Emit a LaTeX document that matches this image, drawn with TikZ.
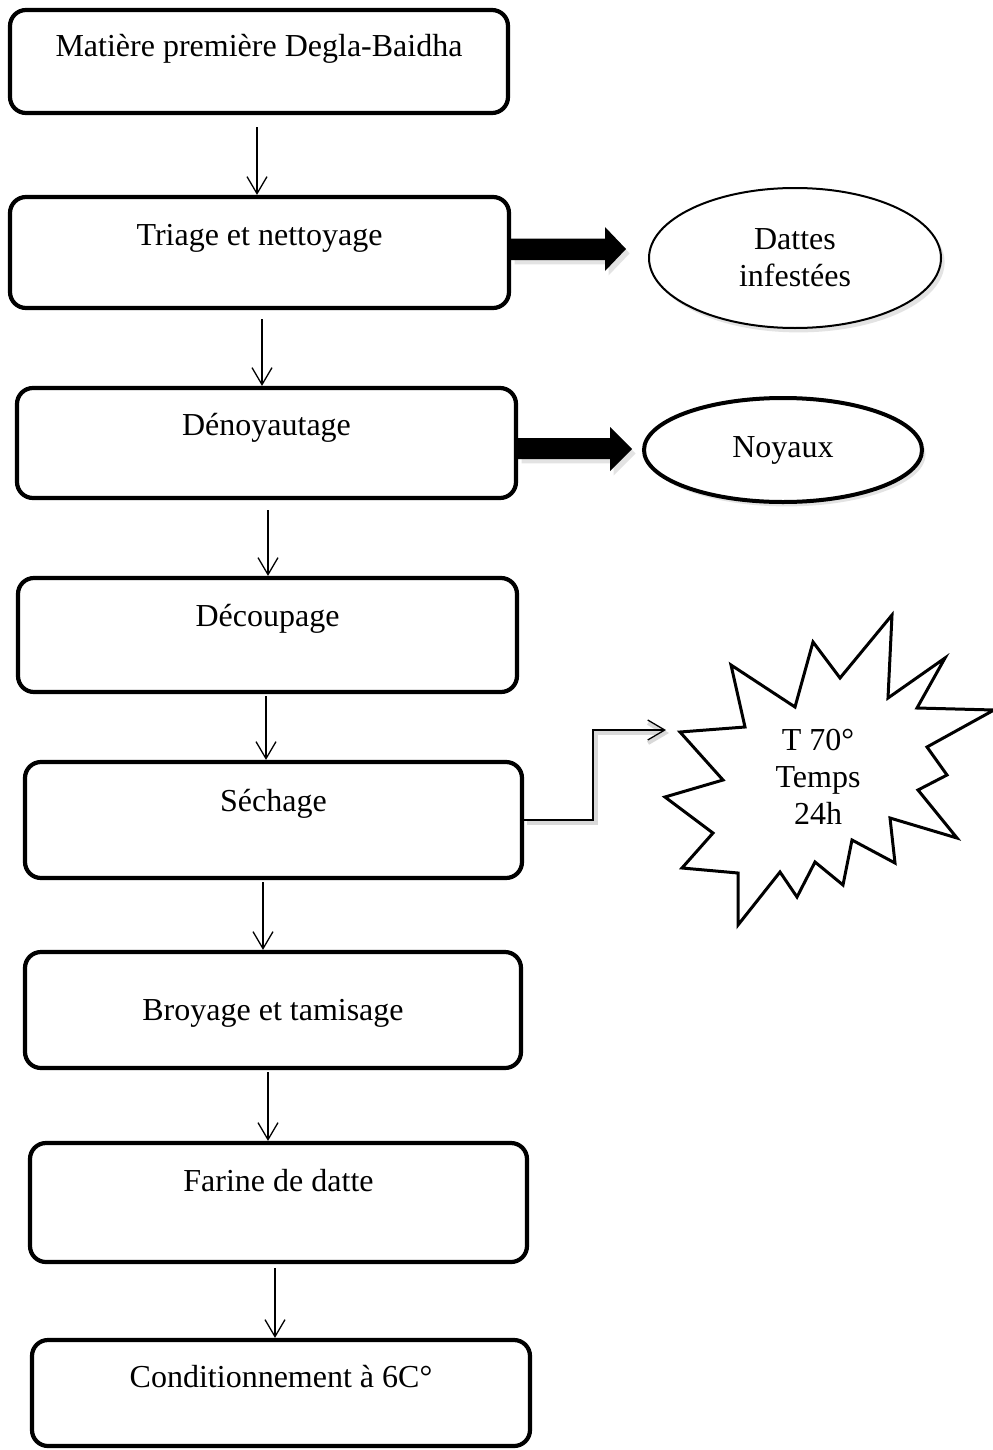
\documentclass[tikz,border=0pt]{standalone}
\usepackage{fontspec}
\setmainfont{Liberation Serif}
\usetikzlibrary{arrows.meta,shadows,shapes.geometric,calc}
\begin{document}
\begin{tikzpicture}[x=0.5pt,y=-0.5pt,
  stepbox/.style={draw, line width=2.1pt, rounded corners=8pt, inner sep=0pt, fill=white},
  lbl/.style={font=\fontsize{16}{18.5}\selectfont, inner sep=0pt, anchor=base, align=center},
  flow/.style={line width=0.65pt, -{Straight Barb[length=8.5pt,width=10pt]}},
  softshadow/.style={drop shadow={opacity=0.22, shadow xshift=1.8pt, shadow yshift=-2.2pt}},
  bigarrow/.style={fill=black, softshadow},
  outbubble/.style={draw, ellipse, fill=white, inner sep=0pt, softshadow,
     font=\fontsize{16}{18.5}\selectfont, align=center},
  burst/.style={draw, line width=1.5pt, fill=white, line join=miter}
]
\fill[white] (0,0) rectangle (992,1450);
\useasboundingbox (0,0) rectangle (992,1450);

% process boxes
\node[stepbox, minimum width=249pt, minimum height=51.5pt] (b1) at (259,61.5) {};
\node[stepbox, minimum width=249.5pt, minimum height=55.5pt] (b2) at (259.5,252.5) {};
\node[stepbox, minimum width=249.5pt, minimum height=55pt] (b3) at (266.5,443) {};
\node[stepbox, minimum width=249.5pt, minimum height=57pt] (b4) at (267.5,635) {};
\node[stepbox, minimum width=248.5pt, minimum height=58pt] (b5) at (273.5,820) {};
\node[stepbox, minimum width=248pt, minimum height=58pt] (b6) at (273,1010) {};
\node[stepbox, minimum width=248.5pt, minimum height=59.5pt] (b7) at (278.5,1202.5) {};
\node[stepbox, minimum width=249pt, minimum height=53pt] (b8) at (281,1393) {};

% texts
\node[lbl] (t1) at (259,57) {Matière première Degla-Baidha};
\node[lbl] (t2) at (259.5,245) {Triage et nettoyage};
\node[lbl] (t3) at (266.5,435) {Dénoyautage};
\node[lbl] (t4) at (267.5,626) {Découpage};
\node[lbl] (t5) at (273.5,811) {Séchage};
\node[lbl] (t6) at (273,1020) {Broyage et tamisage};
\node[lbl] (t7) at (278.5,1191) {Farine de datte};
\node[lbl] (t8) at (281,1387) {Conditionnement à 6C°};

% vertical flow arrows
\draw[flow, shorten <=6pt] ([xshift=-1pt]b1.south) coordinate (s1) -- (s1 |- b2.north);
\draw[flow, shorten <=4.5pt] ([xshift=1.25pt]b2.south) coordinate (s2) -- (s2 |- b3.north);
\draw[flow, shorten <=5pt] ([xshift=0.75pt]b3.south) coordinate (s3) -- (s3 |- b4.north);
\draw[flow, shorten <=1pt] ([xshift=-0.75pt]b4.south) coordinate (s4) -- (s4 |- b5.north);
\draw[flow, shorten <=1pt] ([xshift=-5.25pt]b5.south) coordinate (s5) -- (s5 |- b6.north);
\draw[flow, shorten <=1pt] ([xshift=-2.5pt]b6.south) coordinate (s6) -- (s6 |- b7.north);
\draw[flow, shorten <=2pt] ([xshift=-1.75pt]b7.south) coordinate (s7) -- (s7 |- b8.north);

% side outputs
\node[outbubble, line width=1pt, minimum width=146pt, minimum height=70pt] (e1) at (795,258) {Dattes\\infestées};
\node[outbubble, line width=2pt, minimum width=139pt, minimum height=52pt] (e2) at (783,450) {Noyaux};

\coordinate (a1) at (626,249);
\coordinate (a2) at (632,449);
\fill[bigarrow] (b2.east |- 0,238.5) -- (605,238.5) -- (605,227) -- (a1) -- (605,271) -- (605,260) -- (b2.east |- 0,260) -- cycle;
\fill[bigarrow] (b3.east |- 0,438) -- (610,438) -- (610,427) -- (a2) -- (610,471) -- (610,459) -- (b3.east |- 0,459) -- cycle;

% starburst
\draw[burst] (680,732) -- (745,727) -- (731,665) -- (795,707) -- (813,642) -- (840,678)
  -- (892,615) -- (888,698) -- (945,658) -- (917,708) -- (994,710) -- (927,747)
  -- (947,775) -- (918,790) -- (957,838) -- (890,818) -- (895,863) -- (852,840)
  -- (843,885) -- (815,862) -- (797,897) -- (780,872) -- (738,925) -- (738,873)
  -- (682,868) -- (713,833) -- (665,797) -- (723,780) -- cycle;
\node[lbl, anchor=center] (t9) at (818,777) {T 70°\\Temps\\24h};

% elbow connector
\coordinate (bt) at (666,730);
\draw[flow, preaction={draw=black!15, line width=2pt, transform canvas={shift={(1.5pt,-1.5pt)}}}]
  (b5.east) -| (593,730) -- (bt);
\end{tikzpicture}
\end{document}
